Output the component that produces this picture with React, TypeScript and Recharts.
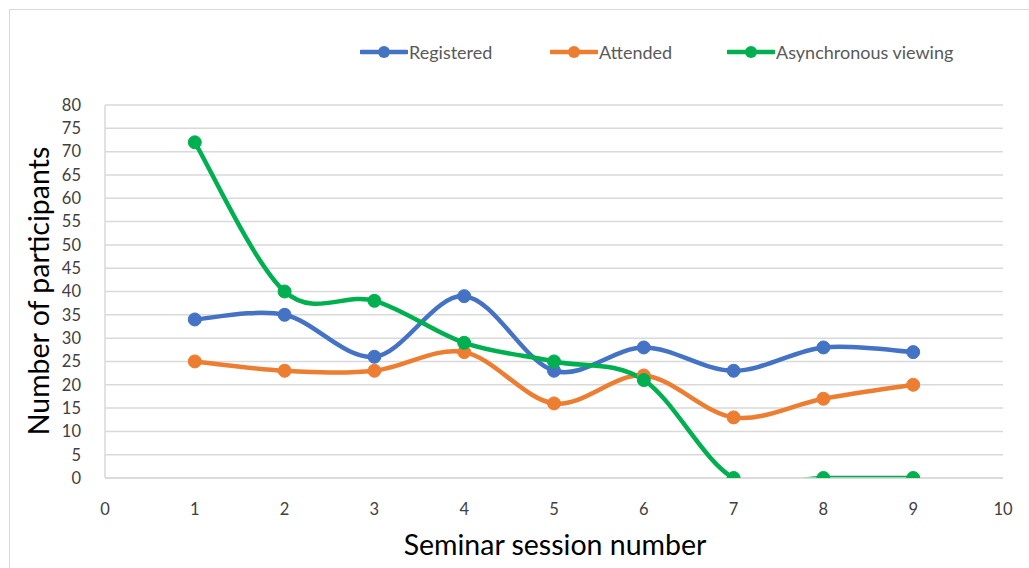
import React from 'react';
import { LineChart, Line, XAxis, YAxis, CartesianGrid } from 'recharts';

const sessions = [1, 2, 3, 4, 5, 6, 7, 8, 9];
const registered = [34, 35, 26, 39, 23, 28, 23, 28, 27];
const attended = [25, 23, 23, 27, 16, 22, 13, 17, 20];
const asyncViewing = [72, 40, 38, 29, 25, 21, 0, 0, 0];
const xTicks = [0, 1, 2, 3, 4, 5, 6, 7, 8, 9, 10];
const yTicks = [0, 5, 10, 15, 20, 25, 30, 35, 40, 45, 50, 55, 60, 65, 70, 75, 80];

const seriesNames = ['Registered', 'Attended', 'Asynchronous viewing'];
const colors = ['#4472C4', '#ED7D31', '#00B050'];

const data = sessions.map((s, i) => ({
  session: s,
  registered: registered[i],
  attended: attended[i],
  asyncViewing: asyncViewing[i],
}));

// Excel-like smoothed line (Catmull-Rom as cubic Bezier)
const excelCurve = (context: any) => {
  let pts: number[][] = [];
  return {
    areaStart() {},
    areaEnd() {},
    lineStart() {
      pts = [];
    },
    point(x: number, y: number) {
      pts.push([+x, +y]);
    },
    lineEnd() {
      const n = pts.length;
      if (!n) return;
      context.moveTo(pts[0][0], pts[0][1]);
      for (let i = 0; i < n - 1; i++) {
        const p0 = pts[i - 1] || pts[i];
        const p1 = pts[i];
        const p2 = pts[i + 1];
        const p3 = pts[i + 2] || pts[i + 1];
        const c1x = p1[0] + (p2[0] - p0[0]) / 6;
        const c1y = p1[1] + (p2[1] - p0[1]) / 6;
        const c2x = p2[0] - (p3[0] - p1[0]) / 6;
        const c2y = p2[1] - (p3[1] - p1[1]) / 6;
        context.bezierCurveTo(c1x, c1y, c2x, c2y, p2[0], p2[1]);
      }
    },
  };
};

const FONT = 'Lato, "Open Sans", sans-serif';

const keys = ['registered', 'attended', 'asyncViewing'];
const legendX = [360, 550, 727];

export default function App() {
  return (
    <div
      style={{
        position: 'absolute',
        left: 0,
        top: 0,
        width: 1029,
        height: 568,
        background: '#fff',
        fontFamily: FONT,
        overflow: 'hidden',
      }}
    >
      <div
        style={{
          position: 'absolute',
          left: 9,
          top: 9,
          width: 1040,
          height: 600,
          borderLeft: '1px solid #d9d9d9',
          borderTop: '1px solid #d9d9d9',
        }}
      />
      <LineChart
        width={1029}
        height={568}
        data={data}
        margin={{ top: 105, right: 26, bottom: 60, left: 45 }}
        style={{ position: 'absolute', left: 0, top: 0 }}
      >
        <CartesianGrid vertical={false} stroke="#d9d9d9" strokeWidth={1.5} />
        <XAxis
          dataKey="session"
          type="number"
          domain={[0, 10]}
          ticks={xTicks}
          height={30}
          tickLine={false}
          axisLine={{ stroke: '#d9d9d9', strokeWidth: 1.5 }}
          tick={{ fill: '#404040', fontSize: 16.5, fontFamily: FONT }}
          tickMargin={19}
          interval={0}
        />
        <YAxis
          type="number"
          domain={[0, 80]}
          ticks={yTicks}
          width={60}
          allowDataOverflow
          tickLine={false}
          axisLine={{ stroke: '#d9d9d9', strokeWidth: 1.5 }}
          tick={{ fill: '#404040', fontSize: 16.5, fontFamily: FONT }}
          tickMargin={18}
          interval={0}
        />
        {keys.map((k, i) => (
          <Line
            key={k}
            dataKey={k}
            name={seriesNames[i]}
            type={excelCurve as any}
            stroke={colors[i]}
            strokeWidth={4.5}
            dot={{ r: 6.5, fill: colors[i], stroke: colors[i], strokeWidth: 1 }}
            activeDot={false}
            isAnimationActive={false}
          />
        ))}
      </LineChart>
      {seriesNames.map((name, i) => (
        <div
          key={name}
          style={{
            position: 'absolute',
            left: legendX[i],
            top: 42,
            height: 20,
            display: 'flex',
            alignItems: 'center',
            color: '#595959',
            fontSize: 18,
            whiteSpace: 'nowrap',
          }}
        >
          <svg width={48} height={16} style={{ display: 'block' }}>
            <line x1={1} y1={8} x2={47} y2={8} stroke={colors[i]} strokeWidth={4.5} strokeLinecap="round" />
            <circle cx={24} cy={8} r={6} fill={colors[i]} />
          </svg>
          <span style={{ marginLeft: 1 }}>{name}</span>
        </div>
      ))}
      <div
        style={{
          position: 'absolute',
          left: 38,
          top: 291,
          transform: 'translate(-50%, -50%) rotate(-90deg)',
          fontSize: 28.5,
          color: '#000',
          whiteSpace: 'nowrap',
        }}
      >
        Number of participants
      </div>
      <div
        style={{
          position: 'absolute',
          left: 555,
          top: 544,
          transform: 'translate(-50%, -50%)',
          fontSize: 28.5,
          color: '#000',
          whiteSpace: 'nowrap',
        }}
      >
        Seminar session number
      </div>
    </div>
  );
}
